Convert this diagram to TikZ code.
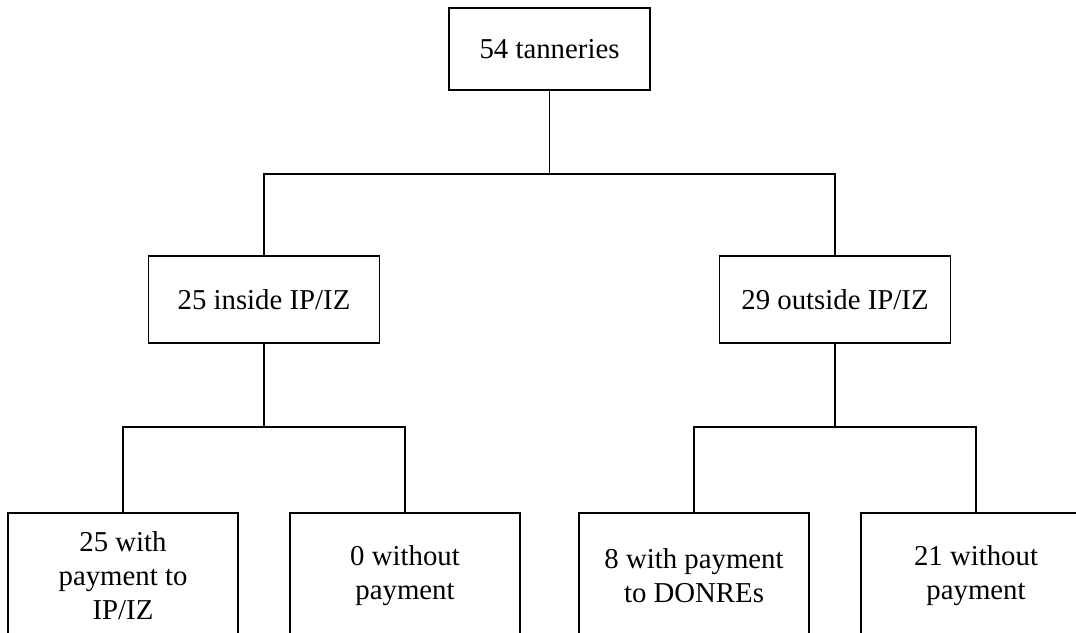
\documentclass[tikz,border=0pt]{standalone}
\usepackage{fontspec}
\setmainfont{Liberation Serif}
\begin{document}
\begin{tikzpicture}
		[x=1pt,y=1pt,
		font=\fontsize{28.8}{34}\selectfont,
		box/.style={draw,line width=1.8pt,anchor=north,inner sep=0pt,align=center},
		topbox/.style={box,minimum width=201pt,minimum height=82pt},
		midbox/.style={box,minimum width=231pt,minimum height=87pt},
		leafbox/.style={box,minimum width=230pt,minimum height=125pt},
		level 1/.style={level distance=206pt,sibling distance=571pt},
		level 2/.style={level distance=212.5pt,sibling distance=282pt},
		edge from parent/.style={draw,line width=1.8pt},
		edge from parent path={(\tikzparentnode.south) -- ++(0,-83) -| (\tikzchildnode.north)},]
		\useasboundingbox(0,0) rectangle (1076,-632);
		\clip(0,0) rectangle (1076,-632);
		\node[topbox](root) at (549.5,-7){54 tanneries}
		child
		{
			node[midbox](inside){25 inside IP/IZ}
			child
			{
				node[leafbox](inpaid){25 with\\payment to\\IP/IZ}
			}
			child
			{
				node[leafbox](innopay){0 without\\payment}
			}
		}
		child
		{
			node[midbox](outside){29 outside IP/IZ}
			child
			{
				node[leafbox](outpaid){8 with payment\\to DONREs}
			}
			child
			{
				node[leafbox](outnopay){21 without\\payment}
			}
		};
	\end{tikzpicture}
\end{document}
